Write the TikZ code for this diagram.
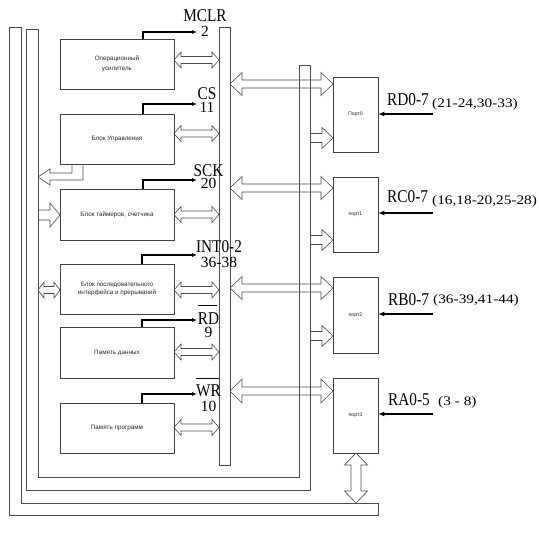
\documentclass[tikz,border=0pt]{standalone}
\usepackage{fontspec}
\usepackage{graphicx}
\setmainfont{Liberation Serif}
\newfontfamily\blkfont{Liberation Sans}
\usetikzlibrary{arrows.meta}
\newcommand\pl[1]{\scalebox{0.85}[1]{#1}}
\newcommand\rg[1]{\scalebox{1.18}[1]{#1}}
\newcommand\nm[2]{{\fontsize{15.5}{#1}\selectfont #2}}
\newcommand\hdbl[6]{% x1,x2,y,head half,shaft half,head length
  \draw[hollow] (#1,#3) -- ({#1+#6},{#3-#4}) -- ({#1+#6},{#3-#5}) -- ({#2-#6},{#3-#5}) -- ({#2-#6},{#3-#4}) -- (#2,#3) -- ({#2-#6},{#3+#4}) -- ({#2-#6},{#3+#5}) -- ({#1+#6},{#3+#5}) -- ({#1+#6},{#3+#4}) -- cycle;}
\newcommand\hsml[1]{% small arrow from bar to port at y
  \draw[hollow] (310,{#1-4.5}) -- (322,{#1-4.5}) -- (322,{#1-10.5}) -- (333,#1) -- (322,{#1+10.5}) -- (322,{#1+4.5}) -- (310,{#1+4.5});}
\tikzset{
  bus/.style={draw=black!70, line width=0.7pt},
  blk/.style={draw=black!75, line width=0.7pt, minimum width=114pt, minimum height=50pt, inner sep=0pt, align=center, font=\blkfont\fontsize{6.3}{8}\selectfont, text=black!85},
  port/.style={draw=black!75, line width=0.7pt, minimum width=45pt, minimum height=75pt, inner sep=0pt, font=\blkfont\fontsize{5.2}{6}\selectfont, text=black!85},
  hollow/.style={draw=black!70, line width=0.6pt, line join=miter},
  sig/.style={line width=1.1pt, -{Latex[length=5pt,width=4pt]}},
  inp/.style={line width=1.5pt, -{Latex[length=6pt,width=5pt]}},
  pinlbl/.style={anchor=base west, inner sep=0pt, font=\fontsize{18}{20}\selectfont},
  pinstack/.style={anchor=south, inner sep=0pt, align=center},
  rnglbl/.style={anchor=base west, inner sep=0pt, font=\fontsize{13}{15}\selectfont}
}
\begin{document}
\begin{tikzpicture}[x=1pt,y=-1pt]
\useasboundingbox (0,0) rectangle (539,533);
% buses
\draw[bus] (9,27) -- (21,27) -- (21,503) -- (378,503) -- (378,515) -- (9,515) -- cycle;
\draw[bus] (26,29) -- (38,29) -- (38,477) -- (299,477) -- (299,65) -- (310,65) -- (310,490) -- (26,490) -- cycle;
\draw[bus] (219,27) rectangle (230,465);
% blocks
\node[blk] (b1) at (117,64) {Операционный\\[2pt]усилитель};
\node[blk] (b2) at (117,139) {Блок Управления};
\node[blk, minimum height=51pt] (b3) at (117,214.5) {Блок таймеров, счетчика};
\node[blk] (b4) at (117,289) {Блок последовательного\\интерфейса и прерываний};
\node[blk, minimum height=51pt] (b5) at (117,352.5) {Память данных};
\node[blk] (b6) at (117,428) {Память программ};
% ports
\node[port] (p0) at (355.5,114.5) {Порт0};
\node[port] (p1) at (355.5,214.5) {порт1};
\node[port, minimum height=76pt] (p2) at (355.5,315) {порт2};
\node[port] (p3) at (355.5,415.5) {порт3};
% block <-> internal bus
\hdbl{174}{219}{60}{8}{3.5}{7}
\hdbl{174}{219}{133.5}{8}{3.5}{7}
\hdbl{174}{219}{214.5}{8}{3.5}{7}
\hdbl{174}{219}{290}{8}{3.5}{7}
\hdbl{174}{219}{352}{8}{3.5}{7}
\hdbl{174}{219}{427.5}{8}{3.5}{7}
% left side arrows
\draw[hollow] (72,164) -- (72,173) -- (50,173) -- (50,169) -- (38,177) -- (50,185) -- (50,180) -- (83,180) -- (83,164);
\draw[hollow] (38,210) -- (50,210) -- (50,203) -- (60,215) -- (50,227) -- (50,220) -- (38,220);
\hdbl{38}{60}{290}{8}{3.5}{6}
% bus <-> ports
\hdbl{230}{333}{84}{11.5}{4}{12}
\hdbl{230}{333}{188}{11.5}{4}{12}
\hdbl{230}{333}{288}{11.5}{4}{12}
\hdbl{230}{333}{391}{12}{4}{12}
\hsml{138}
\hsml{240}
\hsml{336}
% port3 <-> bottom bus
\draw[hollow] (356,453) -- (367.5,465) -- (361,465) -- (361,491) -- (367.5,491) -- (356,503) -- (344.5,491) -- (351,491) -- (351,465) -- (344.5,465) -- cycle;
% pin labels (name above pin number)
\node[pinstack, font=\fontsize{18}{15}\selectfont] (l1) at (205,37) {\pl{MCLR}\\\nm{15}{2}};
\node[pinstack, font=\fontsize{18}{13}\selectfont] (l2) at (207,113) {\pl{CS}\\\nm{13}{11}};
\node[pinstack, font=\fontsize{18}{12}\selectfont] (l3) at (208.5,189) {\pl{SCK}\\\nm{12}{20}};
\node[pinstack, font=\fontsize{18}{15}\selectfont] (l4) at (219,268) {\pl{INT0-2}\\\nm{15}{36-38}};
\node[pinstack, font=\fontsize{18}{13}\selectfont] (l5) at (208.5,338) {\pl{\rlap{\rule[18.5pt]{22pt}{0.7pt}}RD}\\\nm{13}{9}};
\node[pinstack, font=\fontsize{18}{15}\selectfont] (l6) at (208.5,412) {\pl{\rlap{\rule[17.5pt]{27pt}{0.7pt}}WR}\\\nm{15}{10}};
% signal arrows
\coordinate (s1) at (197,32);
\coordinate (s2) at (197,104);
\coordinate (s3) at (197,180);
\coordinate (s4) at (197,255);
\coordinate (s5) at (197,320);
\coordinate (s6) at (197,394);
\draw[sig] ([xshift=26pt]b1.north) |- (s1);
\draw[sig] ([xshift=26pt]b2.north) |- (s2);
\draw[sig] ([xshift=26pt]b3.north) |- (s3);
\draw[sig] ([xshift=25pt]b4.north) |- (s4);
\draw[sig] ([xshift=25pt]b5.north) |- (s5);
\draw[sig] ([xshift=25pt]b6.north) |- (s6);
% port labels
\node[pinlbl] (r0) at (387,105) {\pl{RD0-7}};
\node[rnglbl] (q0) at (432,107) {\rg{(21-24,30-33)}};
\node[pinlbl] (r1) at (387,202) {\pl{RC0-7}};
\node[rnglbl] (q1) at (432,204) {\rg{(16,18-20,25-28)}};
\node[pinlbl] (r2) at (388,305) {\pl{RB0-7}};
\node[rnglbl] (q2) at (433,303) {\rg{(36-39,41-44)}};
\node[pinlbl] (r3) at (388,405) {\pl{RA0-5}};
\node[rnglbl] (q3) at (438,405) {\rg{(3 - 8)}};
% port inputs
\coordinate (i0) at (433,114);
\coordinate (i1) at (433,213);
\coordinate (i2) at (433,314);
\coordinate (i3) at (433,414);
\draw[inp] (i0) -- (i0 -| p0.east);
\draw[inp] (i1) -- (i1 -| p1.east);
\draw[inp] (i2) -- (i2 -| p2.east);
\draw[inp] (i3) -- (i3 -| p3.east);
\end{tikzpicture}
\end{document}
